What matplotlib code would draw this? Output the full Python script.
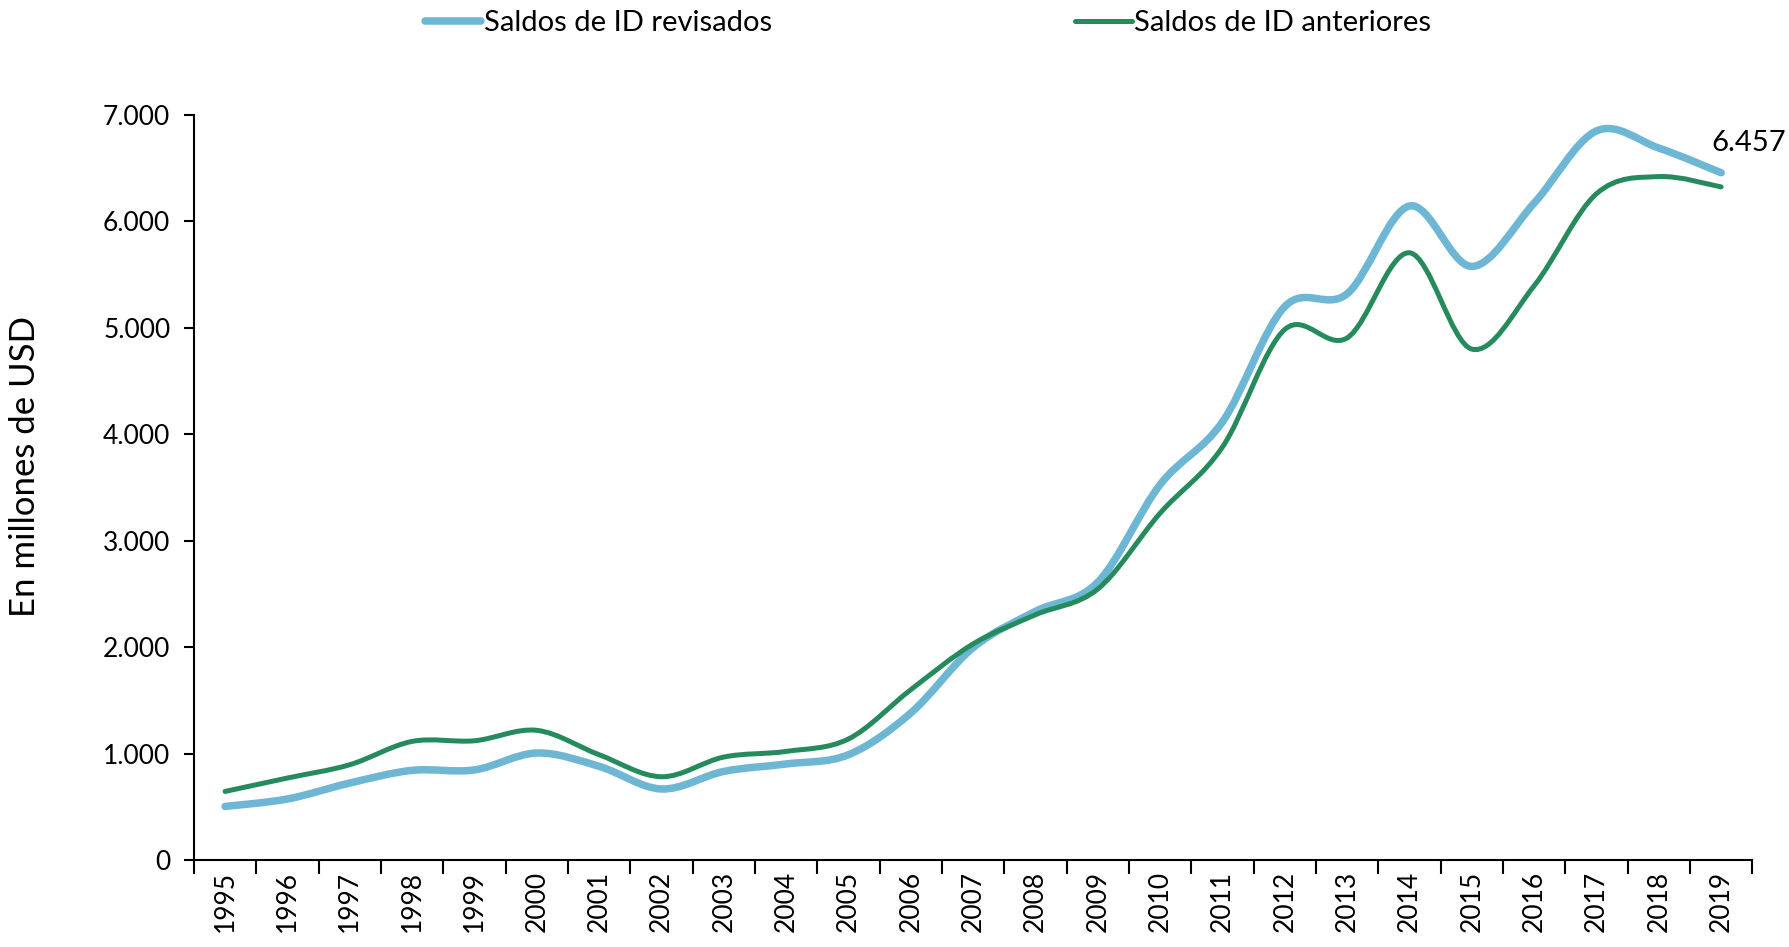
import matplotlib
matplotlib.use("Agg")
import matplotlib.pyplot as plt
from matplotlib.path import Path
from matplotlib.patches import PathPatch
from matplotlib.lines import Line2D
from matplotlib.ticker import FuncFormatter, FixedLocator
import numpy as np

plt.rcParams['font.family'] = ['Lato', 'DejaVu Sans']

years = [str(y) for y in range(1995, 2020)]
revisados = [503, 573, 723, 842, 846, 1005, 880, 667, 832, 902, 989, 1381, 1995,
             2336, 2610, 3527, 4116, 5200, 5320, 6145, 5577, 6172, 6850, 6689, 6457]
anteriores = [644, 770, 895, 1114, 1120, 1218, 989, 782, 967, 1020, 1137, 1600, 2030,
              2304, 2546, 3259, 3880, 4985, 4905, 5705, 4800, 5395, 6260, 6421, 6324]
label_rev = "Saldos de ID revisados"
label_ant = "Saldos de ID anteriores"
ylabel = "En millones de USD"

col_rev = "#6DB6D4"
col_ant = "#258A5C"


def smooth_path(xs, ys):
    xs = np.asarray(xs, float)
    ys = np.asarray(ys, float)
    n = len(xs)
    verts = [(xs[0], ys[0])]
    codes = [Path.MOVETO]
    for i in range(n - 1):
        i0 = max(i - 1, 0)
        i3 = min(i + 2, n - 1)
        c1 = (xs[i] + (xs[i + 1] - xs[i0]) / 6, ys[i] + (ys[i + 1] - ys[i0]) / 6)
        c2 = (xs[i + 1] - (xs[i3] - xs[i]) / 6, ys[i + 1] - (ys[i3] - ys[i]) / 6)
        verts += [c1, c2, (xs[i + 1], ys[i + 1])]
        codes += [Path.CURVE4] * 3
    return Path(verts, codes)


fig = plt.figure(figsize=(17.89, 9.47), dpi=100)
ax = fig.add_axes([0.1084, 0.0919, 0.8711, 0.7867])

x = np.arange(len(years))
ax.add_patch(PathPatch(smooth_path(x, revisados), facecolor='none', edgecolor=col_rev,
                       lw=5.4, capstyle='round', joinstyle='round', zorder=3))
ax.add_patch(PathPatch(smooth_path(x, anteriores), facecolor='none', edgecolor=col_ant,
                       lw=3.6, capstyle='round', joinstyle='round', zorder=4))

ax.set_xlim(-0.5, len(years) - 0.5)
ax.set_ylim(0, 7000)
ax.set_yticks(np.arange(0, 7001, 1000))
ax.yaxis.set_major_formatter(FuncFormatter(lambda v, p: f"{int(v):,}".replace(",", ".")))

ax.set_xticks(x)
ax.set_xticklabels(years, rotation=90, fontsize=19)
ax.xaxis.set_minor_locator(FixedLocator(np.arange(-0.5, len(years), 1.0)))
ax.tick_params(axis='x', which='major', length=0, pad=8)
ax.tick_params(axis='x', which='minor', length=10, width=1.5, direction='out')
ax.tick_params(axis='y', which='major', length=7, width=1.5, direction='out',
               labelsize=19, pad=10)

for s in ['top', 'right']:
    ax.spines[s].set_visible(False)
for s in ['left', 'bottom']:
    ax.spines[s].set_linewidth(1.5)

ax.set_ylabel(ylabel, fontsize=25)
ax.yaxis.set_label_coords(-0.098, 0.528)

ax.annotate(f"{revisados[-1]:,}".replace(",", "."), xy=(x[-1], revisados[-1]),
            xytext=(-10, 22), textcoords='offset pixels', ha='left', va='baseline',
            fontsize=21, annotation_clip=False)

handles = [Line2D([], [], color=col_rev, lw=5.4, solid_capstyle='round'),
           Line2D([], [], color=col_ant, lw=3.6, solid_capstyle='round')]
fig.legend(handles, [label_rev, label_ant], loc='center', bbox_to_anchor=(0.5187, 0.976),
           ncol=2, frameon=False, fontsize=21, handlelength=1.95, handletextpad=0.08,
           columnspacing=10.4)

fig.savefig("out.png", dpi=100)
